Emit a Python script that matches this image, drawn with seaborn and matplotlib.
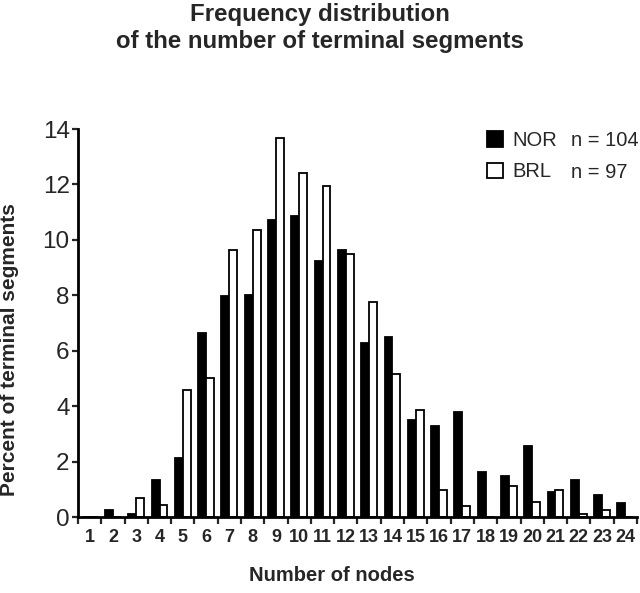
import numpy as np
import pandas as pd
import matplotlib
matplotlib.use("Agg")
import matplotlib.pyplot as plt
from matplotlib.patches import Patch
import seaborn as sns

# ---- data ----
nodes = [str(i) for i in range(1, 25)]
nor_values = [0, 0.24, 0.12, 1.35, 2.13, 6.64, 7.99, 8.0, 10.73, 10.86, 9.24, 9.65,
              6.27, 6.51, 3.51, 3.27, 3.78, 1.61, 1.48, 2.57, 0.92, 1.34, 0.78, 0.52]
brl_values = [0, 0, 0.69, 0.42, 4.57, 5.01, 9.62, 10.34, 13.68, 12.41, 11.94, 9.48,
              7.76, 5.17, 3.87, 0.99, 0.41, 0, 1.12, 0.54, 0.99, 0.12, 0.26, 0]
groups = ["NOR", "BRL"]
group_n = ["n = 104", "n = 97"]
yticks = [0, 2, 4, 6, 8, 10, 12, 14]

df = pd.DataFrame({
    "nodes": nodes * 2,
    "group": ["NOR"] * len(nodes) + ["BRL"] * len(nodes),
    "percent": nor_values + brl_values,
})

sns.set_style("ticks")
plt.rcParams["font.family"] = ["Liberation Sans", "DejaVu Sans"]

fig = plt.figure(figsize=(6.4, 5.93), dpi=100)
ax = fig.add_axes([78 / 640, 76 / 593, (637 - 78) / 640, (517 - 129) / 593])

sns.barplot(data=df, x="nodes", y="percent", hue="group", order=nodes,
            hue_order=groups, palette={"NOR": "black", "BRL": "white"},
            edgecolor="black", linewidth=1.3, width=0.68, errorbar=None,
            legend=False, ax=ax)

ax.set_xlim(-0.5, len(nodes) - 0.5)
ax.set_ylim(0, 14)
ax.set_yticks(yticks)
ax.set_yticklabels([str(v) for v in yticks], fontsize=17.5)
ax.set_xticks(np.arange(-0.5, len(nodes), 1))
ax.set_xticklabels([])
ax.set_xticks(np.arange(len(nodes)), labels=nodes, minor=True)
ax.tick_params(axis="x", which="minor", length=0, pad=9, labelsize=13)
for t in ax.get_xticklabels(minor=True):
    t.set_fontweight("bold")
ax.tick_params(axis="x", which="major", length=5, width=1.6, direction="out")
ax.tick_params(axis="y", length=4, width=1.6, pad=2, direction="out")
ax.set_xlabel("")
ax.set_ylabel("")
sns.despine(ax=ax)
for s in ["left", "bottom"]:
    ax.spines[s].set_linewidth(2)
    ax.spines[s].set_color("black")

# titles and labels
fig.text(0.5, 1 - 21 / 593, "Frequency distribution", ha="center", va="baseline",
         fontsize=17.3, fontweight="bold")
fig.text(0.5, 1 - 48 / 593, "of the number of terminal segments", ha="center",
         va="baseline", fontsize=17.3, fontweight="bold")
fig.text(332 / 640, 1 - 581 / 593, "Number of nodes", ha="center", va="baseline",
         fontsize=14.5, fontweight="bold")
fig.text(10 / 640, 1 - 350 / 593, "Percent of terminal segments", ha="center",
         va="center", rotation=90, fontsize=15, fontweight="bold")

# legend
handles = [Patch(facecolor="black", edgecolor="black", linewidth=1.3),
           Patch(facecolor="white", edgecolor="black", linewidth=1.3)]
fig.legend(handles, groups, loc="upper left",
           bbox_to_anchor=(487 / 640, 1 - 131 / 593), frameon=False,
           borderpad=0, borderaxespad=0, handlelength=0.8, handleheight=0.8,
           handletextpad=0.45, labelspacing=0.62, fontsize=14.5)
for i, txt in enumerate(group_n):
    fig.text(571 / 640, 1 - (141 + 32 * i) / 593, txt, ha="left", va="center",
             fontsize=14.5)

fig.savefig("out.png", dpi=100)
